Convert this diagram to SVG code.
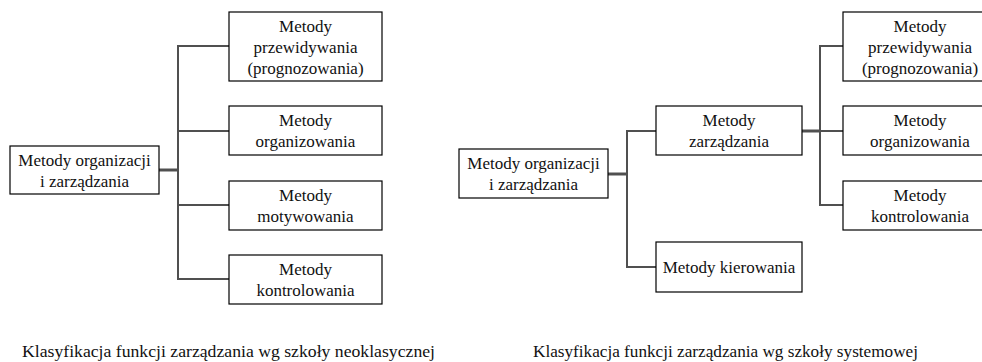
<svg xmlns="http://www.w3.org/2000/svg" width="982" height="362" viewBox="0 0 982 362">
<style>
.box{fill:#fff;stroke:#000;stroke-width:1.2}
.t{font-size:17px;text-anchor:middle;fill:#111}
.cap{font-size:17px;fill:#111}
.c{fill:none;stroke:#505050;stroke-width:2}
.cs{fill:none;stroke:#505050;stroke-width:3}
</style>
<rect width="982" height="362" fill="#fff"/>
<g id="connectors">
  <path class="cs" d="M159,170H178"/>
  <path class="c" d="M229,46H178V279H229M178,131H229M178,205H229"/>
  <path class="cs" d="M608,174H627"/>
  <path class="c" d="M656,131H627V267H656"/>
  <path class="cs" d="M802,131H820"/>
  <path class="c" d="M843,46H820V205H843M820,131H843"/>
</g>
<g font-family="Liberation Serif, serif">
<g id="left-root"><rect class="box" x="10" y="146" width="149" height="48"/><text class="t" x="84.5" y="166">Metody organizacji</text><text class="t" x="84.5" y="187">i zarządzania</text></g>
<g id="left-przewidywania"><rect class="box" x="229" y="12" width="153" height="69"/><text class="t" x="305.5" y="32">Metody</text><text class="t" x="305.5" y="53">przewidywania</text><text class="t" x="305.5" y="74">(prognozowania)</text></g>
<g id="left-organizowania"><rect class="box" x="229" y="106" width="153" height="49"/><text class="t" x="305.5" y="126">Metody</text><text class="t" x="305.5" y="147">organizowania</text></g>
<g id="left-motywowania"><rect class="box" x="229" y="181" width="153" height="49"/><text class="t" x="305.5" y="201">Metody</text><text class="t" x="305.5" y="222">motywowania</text></g>
<g id="left-kontrolowania"><rect class="box" x="229" y="255" width="153" height="49"/><text class="t" x="305.5" y="275">Metody</text><text class="t" x="305.5" y="296">kontrolowania</text></g>
<g id="right-root"><rect class="box" x="459" y="149" width="149" height="49"/><text class="t" x="533.5" y="169">Metody organizacji</text><text class="t" x="533.5" y="190">i zarządzania</text></g>
<g id="right-zarzadzania"><rect class="box" x="656" y="106" width="146" height="49"/><text class="t" x="729" y="126">Metody</text><text class="t" x="729" y="147">zarządzania</text></g>
<g id="right-kierowania"><rect class="box" x="656" y="242" width="146" height="50"/><text class="t" x="729" y="273">Metody kierowania</text></g>
<g id="right-przewidywania"><rect class="box" x="843" y="12" width="153" height="69"/><text class="t" x="920" y="32">Metody</text><text class="t" x="920" y="53">przewidywania</text><text class="t" x="920" y="74">(prognozowania)</text></g>
<g id="right-organizowania"><rect class="box" x="843" y="106" width="153" height="49"/><text class="t" x="920" y="126">Metody</text><text class="t" x="920" y="147">organizowania</text></g>
<g id="right-kontrolowania"><rect class="box" x="843" y="181" width="153" height="49"/><text class="t" x="920" y="201">Metody</text><text class="t" x="920" y="222">kontrolowania</text></g>
<g id="captions">
<text class="cap" x="22" y="357" textLength="413" lengthAdjust="spacingAndGlyphs">Klasyfikacja funkcji zarządzania wg szkoły neoklasycznej</text>
<text class="cap" x="533" y="357" textLength="385" lengthAdjust="spacingAndGlyphs">Klasyfikacja funkcji zarządzania wg szkoły systemowej</text>
</g>
</g>
</svg>
